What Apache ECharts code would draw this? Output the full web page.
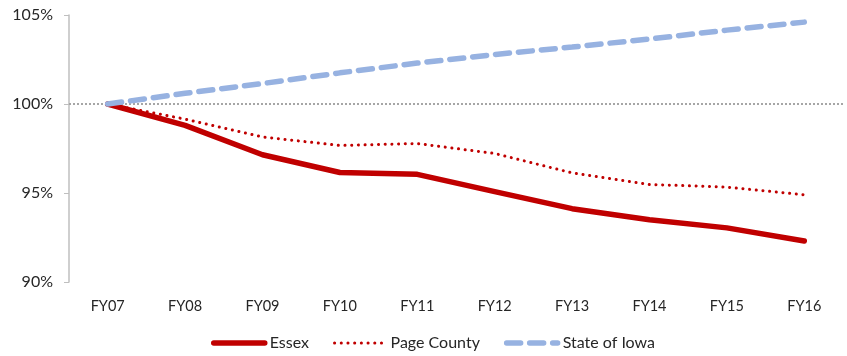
<!DOCTYPE html>
<html>
<head>
<meta charset="utf-8">
<script src="https://cdn.jsdelivr.net/npm/echarts@6/dist/echarts.min.js"></script>
<style>
  html, body { margin: 0; padding: 0; background: #fff; }
  #chart { width: 847px; height: 356px; }
</style>
</head>
<body>
<div id="chart"></div>
<script>
// Fiscal years on the category axis
const years = ['FY07', 'FY08', 'FY09', 'FY10', 'FY11', 'FY12', 'FY13', 'FY14', 'FY15', 'FY16'];

// Enrollment indexed to FY07 = 100%
const essex = [100, 98.8, 97.15, 96.15, 96.05, 95.08, 94.12, 93.5, 93.04, 92.3];
const pageCounty = [100, 99.15, 98.15, 97.67, 97.78, 97.22, 96.13, 95.48, 95.33, 94.9];
const stateOfIowa = [100, 100.6, 101.15, 101.75, 102.3, 102.78, 103.2, 103.65, 104.15, 104.6];

// Value axis ticks
const yMin = 90, yMax = 105, yStep = 5;

const font = 'Lato, "Open Sans", sans-serif';
const red = '#C00000';
const blue = '#97B2E1';

const chart = echarts.init(document.getElementById('chart'));
chart.setOption({
  animation: false,
  grid: { left: 69, right: 4, top: 15, bottom: 74, containLabel: false },
  legend: {
    top: 335,
    left: 211,
    padding: 0,
    itemWidth: 51,
    itemHeight: 10,
    itemGap: 24,
    textStyle: { fontFamily: font, fontSize: 16, color: '#262626' },
    data: [
      { name: 'Essex', itemStyle: { opacity: 0 }, lineStyle: { width: 5.5, cap: 'round' } },
      { name: 'Page County', itemStyle: { opacity: 0 }, lineStyle: { width: 3, cap: 'round' } },
      { name: 'State of Iowa', itemStyle: { opacity: 0 }, lineStyle: { width: 5.5, cap: 'round' } }
    ]
  },
  xAxis: {
    type: 'category',
    data: years,
    boundaryGap: true,
    axisLine: { show: false },
    axisTick: { show: false },
    axisLabel: { margin: 17, fontFamily: font, fontSize: 14.5, color: '#262626' }
  },
  yAxis: {
    type: 'value',
    min: yMin,
    max: yMax,
    interval: yStep,
    axisLine: { show: true, lineStyle: { color: '#BFBFBF', width: 1.5 } },
    axisTick: { show: true, length: 5, lineStyle: { color: '#BFBFBF' } },
    splitLine: { show: false },
    axisLabel: {
      margin: 16,
      fontFamily: font, fontSize: 16, color: '#262626',
      formatter: v => v + '%'
    }
  },
  series: [
    {
      name: 'Essex',
      type: 'line',
      data: essex,
      symbol: 'none',
      z: 3,
      lineStyle: { color: red, width: 5.5, cap: 'round', join: 'round' },
      itemStyle: { color: red },
      markLine: {
        silent: true,
        symbol: 'none',
        label: { show: false },
        lineStyle: { color: '#A6A6A6', width: 2, type: [2, 2] },
        data: [{ yAxis: 100 }],
        z: 1
      }
    },
    {
      name: 'Page County',
      type: 'line',
      data: pageCounty,
      symbol: 'none',
      z: 4,
      lineStyle: { color: red, width: 3, type: [0.1, 6.6], cap: 'round' },
      itemStyle: { color: red }
    },
    {
      name: 'State of Iowa',
      type: 'line',
      data: stateOfIowa,
      symbol: 'none',
      z: 5,
      lineStyle: { color: blue, width: 5.5, type: [14, 9], cap: 'round' },
      itemStyle: { color: blue }
    }
  ]
});
</script>
</body>
</html>
